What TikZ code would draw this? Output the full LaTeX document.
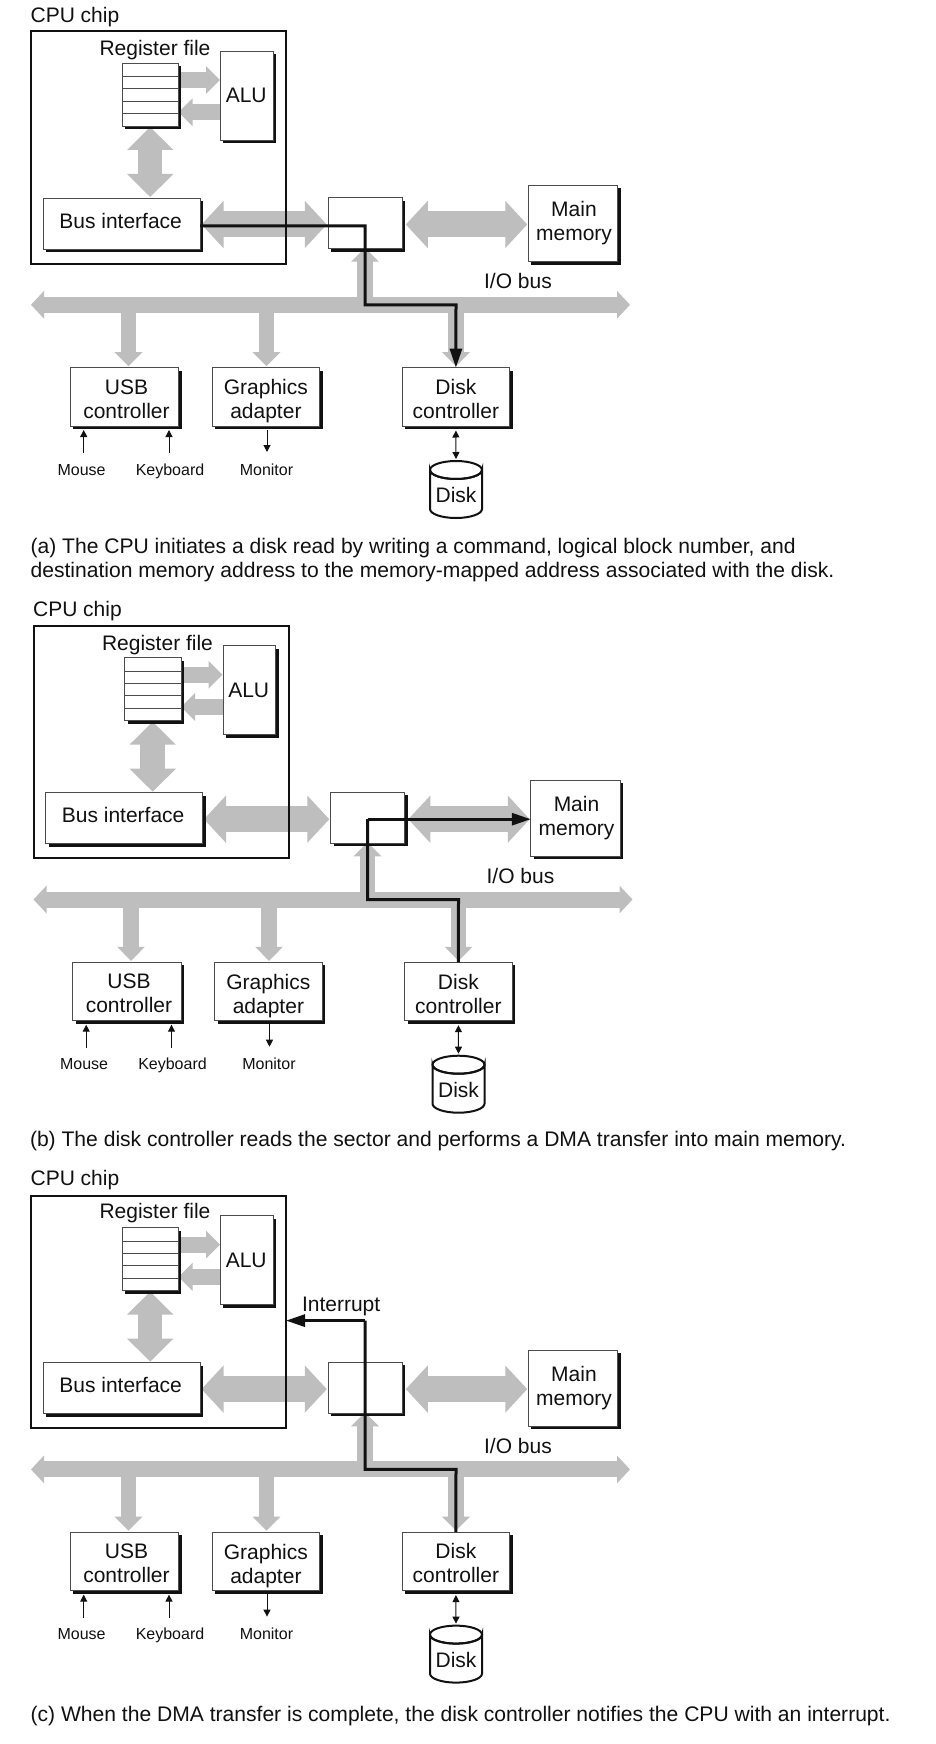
\documentclass[tikz,border=0pt]{standalone}
\usepackage{fontspec}
\setmainfont{Liberation Sans}
\usetikzlibrary{arrows.meta,shadows,calc}
\pgfdeclarelayer{bg}
\pgfsetlayers{bg,main}
\definecolor{busgray}{HTML}{BEBEBE}
\definecolor{ink}{HTML}{111111}
\tikzset{
  x=1pt,y=-1pt,
  every node/.style={font=\fontsize{21}{24}\selectfont,text=ink,inner sep=0pt,outer sep=0pt},
  box/.style={draw=ink!75,line width=0.8pt,fill=white,rectangle,align=center,
    drop shadow={shadow xshift=3pt,shadow yshift=-3pt,fill=ink,opacity=1}},
  small/.style={font=\fontsize{16}{18}\selectfont,anchor=base},
  captext/.style={anchor=west,align=left,font=\fontsize{21.08}{24}\selectfont},
  wide/.style={draw=busgray,line width=26pt,{Triangle[length=22pt,width=46pt]}-{Triangle[length=22pt,width=46pt]}},
  regarrow/.style={draw=busgray,line width=16pt,-{Triangle[length=14pt,width=27pt]}},
  stem/.style={draw=busgray,line width=15.5pt,-{Triangle[length=14pt,width=27pt]}},
  vert/.style={draw=busgray,line width=24.5pt,{Triangle[length=23pt,width=45pt]}-{Triangle[length=23pt,width=45pt]}},
  busline/.style={draw=busgray,line width=16pt,{Triangle[length=13pt,width=27pt]}-{Triangle[length=13pt,width=27pt]}},
  thin arrow/.style={draw=ink,line width=1pt,-{Triangle[length=7pt,width=7pt]}},
  thin dbl/.style={draw=ink,line width=1pt,{Triangle[length=7pt,width=7pt]}-{Triangle[length=7pt,width=7pt]}},
  flow/.style={draw=ink,line width=3pt,miter limit=10},
  flow tip/.style={flow,-{Triangle[length=19pt,width=12pt]}},
}
% #1 prefix, #2 shift, #3 flow path, #4 caption, #5 y of chip label, #6 y of register label, #7 baseline of small labels
\newcommand{\drawpanel}[7]{%
\begin{scope}[shift={(#2)},name prefix=#1-]
  \node[anchor=west] (chiplabel) at (30.6,#5) {CPU chip};
  \node[draw=ink,line width=2pt,rectangle,minimum width=255pt,minimum height=232pt] (cpu) at (158.5,147.5) {};
  \node (reglabel) at (155,#6) {Register file};
  \node[box,minimum width=56.4pt,minimum height=63pt] (reg) at (150.2,94.5) {};
  \draw[ink!75,line width=0.8pt] (122,76.7) -- (178.4,76.7) (122,88.7) -- (178.4,88.7) (122,101) -- (178.4,101) (122,113.7) -- (178.4,113.7);
  \node[box,minimum width=52.6pt,minimum height=89pt,label={[xshift=-0.5pt]center:ALU}] (alu) at (246.7,95.5) {};
  \node[box,minimum width=156.7pt,minimum height=51pt,label={[xshift=-1pt,yshift=3pt]center:Bus interface}] (bif) at (121.65,223.5) {};
  \node[box,minimum width=74pt,minimum height=51pt] (bridge) at (365.3,223.2) {};
  \node[box,minimum width=89.5pt,minimum height=76pt,label={[align=center,xshift=1pt]center:{Main\\memory}}] (mem) at (573,223.5) {};
  \node (iolabel) at (518,281) {I/O bus};
  \node[box,minimum width=108.6pt,minimum height=58.4pt,label={[align=center,xshift=2pt,yshift=-2pt]center:{USB\\controller}}] (usb) at (124.5,396.8) {};
  \node[box,minimum width=107.4pt,minimum height=58.4pt,label={[align=center,yshift=-4.5pt]center:{Graphics\\adapter}}] (gfx) at (265.9,396.8) {};
  \node[box,minimum width=107.6pt,minimum height=58.4pt,label={[align=center,yshift=-2pt]center:{Disk\\controller}}] (dc) at (455.9,396.8) {};
  \node[small] (mouse) at (81.6,#7) {Mouse};
  \node[small] (kbd) at (170,#7) {Keyboard};
  \node[small] (mon) at (266.5,#7) {Monitor};
  \node[minimum width=52pt,minimum height=57pt] (cyl) at (456,489.5) {};
  \draw[ink,line width=2pt,fill=white] (430,470) arc[start angle=180,end angle=360,x radius=26,y radius=-9] -- (482,509)
     arc[start angle=0,end angle=-180,x radius=26,y radius=-9] -- cycle;
  \draw[ink,line width=2pt] (456,470) ellipse[x radius=26,y radius=9];
  \node (cyltext) at (456,495) {Disk};
  % free ends
  \coordinate (busL) at (31,304.8);
  \coordinate (busR) at (630,304.8);
  \coordinate (busU) at (128.5,304.8);
  \coordinate (busG) at (266.5,304.8);
  \coordinate (busD) at (456,304.8);
  \coordinate (busB) at (365,304.8);
  \coordinate (rtail) at (178.4,80);
  \coordinate (rtip) at (220,80);
  \coordinate (ltail) at (220.4,112.3);
  \coordinate (ltip) at (178.5,112.3);
  \coordinate (midrow) at (365,224.5);
  \begin{pgfonlayer}{bg}
    \draw[regarrow] (rtail) -- (rtip);
    \draw[regarrow] (ltail) -- (ltip);
    \draw[vert,shorten <=1pt,shorten >=1pt] (reg.south) -- (reg.south |- bif.north);
    \draw[wide,shorten <=1.5pt,shorten >=1.5pt] (bif.east |- midrow) -- (bridge.west |- midrow);
    \draw[wide,shorten <=3.5pt,shorten >=1pt] (bridge.east |- midrow) -- (mem.west |- midrow);
    \draw[busline] (busL) -- (busR);
    \draw[stem,shorten >=-1pt] (busB) -- (bridge.south -| busB);
    \draw[stem,shorten >=1.5pt] (busU) -- (usb.north -| busU);
    \draw[stem,shorten >=1.5pt] (busG) -- (gfx.north -| busG);
    \draw[stem,shorten >=1.5pt] (busD) -- (dc.north -| busD);
  \end{pgfonlayer}
  % thin arrows
  \coordinate (mfoot) at (83.7,453);
  \coordinate (kfoot) at (169,453);
  \coordinate (mhead) at (267,452);
  \draw[thin arrow,shorten >=4pt] (mfoot) -- (mfoot |- usb.south);
  \draw[thin arrow,shorten >=4pt] (kfoot) -- (kfoot |- usb.south);
  \draw[thin arrow,shorten <=3.5pt] (mhead |- gfx.south) -- (mhead);
  \draw[thin dbl,shorten <=4.5pt,shorten >=2pt] (dc.south) -- (cyl.north);
  #3
  \node[captext] (caption) at #4;
\end{scope}}
\begin{document}
\begin{tikzpicture}
\useasboundingbox (0,0) rectangle (936,1744);
\begin{pgfonlayer}{bg}\fill[white] (0,0) rectangle (936,1744);\end{pgfonlayer}
\drawpanel{a}{0,0}{%
  \coordinate (flowrow) at (365,226);
  \draw[flow tip] (bif.east |- flowrow) -- (flowrow) -- (busB) -- (busD) -- (dc.north);
}{(30.6,560.5) {(a) The CPU initiates a disk read by writing a command, logical block number, and\\destination memory address to the memory-mapped address associated with the disk.}}{17}{50}{475.7}
\drawpanel{b}{2.5,594.7}{%
  \draw[flow] (dc.north) -- (busD) -- (busB) -- (midrow);
  \draw[flow tip] (midrow) -- (mem.west |- midrow);
}{(27.5,546.3) {(b) The disk controller reads the sector and performs a DMA transfer into main memory.}}{16}{50}{474.8}
\drawpanel{c}{0,1164.6}{%
  \coordinate (intcorner) at (365,156);
  \node[anchor=west] (intlabel) at (302,141.5) {Interrupt};
  \draw[flow] (dc.north) -- (busD) -- (busB) -- (intcorner);
  \draw[flow tip] (intcorner) -- (intcorner -| cpu.east);
}{(30.6,551.5) {(c) When the DMA transfer is complete, the disk controller notifies the CPU with an interrupt.}}{15}{48}{474.8}
\end{tikzpicture}
\end{document}
